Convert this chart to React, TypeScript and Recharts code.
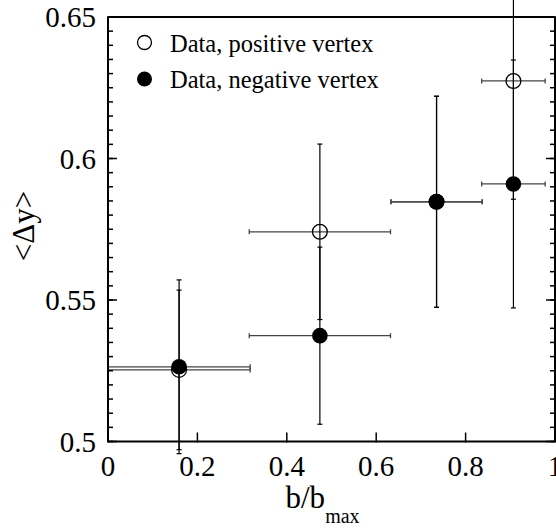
import React from "react";
import {
  ScatterChart,
  Scatter,
  XAxis,
  YAxis,
  ErrorBar,
  Legend,
} from "recharts";

// b/b_max bins (centre and half width)
const binCenters = [0.159, 0.474, 0.735, 0.907];
const binHalfWidths = [0.159, 0.158, 0.102, 0.071];
// <Δy> for the two vertex samples
const positiveY = [0.5253, 0.5741, 0.5847, 0.6274];
const positiveErr = [0.0282, 0.031, 0.0373, 0.0418];
const negativeY = [0.5264, 0.5374, 0.5847, 0.591];
const negativeErr = [0.0307, 0.0313, 0.0373, 0.0438];

const xMajorTicks = [0, 0.2, 0.4, 0.6, 0.8, 1];
const xMajorLabels = ["0", "0.2", "0.4", "0.6", "0.8", "1"];
const yMajorTicks = [0.5, 0.55, 0.6, 0.65];
const yMajorLabels = ["0.5", "0.55", "0.6", "0.65"];

const xMinorTicks = Array.from({ length: 21 }, (_, i) => Number((i * 0.05).toFixed(3)));
const yMinorTicks = Array.from({ length: 31 }, (_, i) => Number((0.5 + i * 0.005).toFixed(4)));

const positiveData = binCenters.map((x, i) => ({
  x,
  y: positiveY[i],
  ex: binHalfWidths[i],
  ey: positiveErr[i],
}));
const negativeData = binCenters.map((x, i) => ({
  x,
  y: negativeY[i],
  ex: binHalfWidths[i],
  ey: negativeErr[i],
}));

const FONT = "Liberation Serif, Times New Roman, serif";
const serif = { fontFamily: FONT };
const frame = { stroke: "#000", strokeWidth: 2 };
const tickStroke = { stroke: "#000", strokeWidth: 1.5 };
const labelStyle = { fontSize: 29, fontFamily: FONT, fill: "#000" };

const fmtX = (v: number) => xMajorLabels[xMajorTicks.findIndex((t) => Math.abs(t - v) < 1e-6)] ?? "";
const fmtY = (v: number) => yMajorLabels[yMajorTicks.findIndex((t) => Math.abs(t - v) < 1e-6)] ?? "";

// tick={false} would drop the tick lines too, so use an empty label instead
const NoLabel = () => <g />;

const OpenDot = (props: any) => (
  <circle cx={props.cx} cy={props.cy} r={7.4} fill="none" stroke="#000" strokeWidth={1.3} />
);
const FilledDot = (props: any) => (
  <circle cx={props.cx} cy={props.cy} r={7.8} fill="#000" stroke="none" />
);

const LegendBox = () => (
  <svg width={320} height={80} style={{ display: "block" }}>
    <circle cx={14.5} cy={17.5} r={7} fill="none" stroke="#000" strokeWidth={1.3} />
    <text x={40} y={26.5} fontSize={24.5} style={serif} fill="#000">
      Data, positive vertex
    </text>
    <circle cx={14.5} cy={54} r={7.5} fill="#000" />
    <text x={40} y={63} fontSize={24.5} style={serif} fill="#000">
      Data, negative vertex
    </text>
  </svg>
);

const YLabel = () => {
  const cx = 23;
  const cy = 226;
  return (
    <text
      x={cx}
      y={cy}
      transform={`rotate(-90 ${cx} ${cy})`}
      textAnchor="middle"
      dominantBaseline="central"
      fontSize={31}
      style={serif}
      fill="#000"
    >
      &lt;Δy&gt;
    </text>
  );
};

const XLabel = (props: any) => {
  const vb = props.viewBox;
  const sx = vb.x + vb.width / 2 - 46;
  return (
    <text x={sx} y={508} fontSize={31} style={serif} fill="#000">
      <tspan>b/b</tspan>
      <tspan fontSize={20} dy={15}>
        max
      </tspan>
    </text>
  );
};

export default function App() {
  return (
    <div style={{ position: "absolute", left: 0, top: 0, background: "#fff" }}>
      <ScatterChart width={556} height={529} margin={{ top: 15, right: -1, bottom: 0, left: 0 }}>
        {/* minor-tick axes come first so they sit right on the frame */}
        <XAxis
          xAxisId="bMinor"
          type="number"
          domain={[0, 1]}
          ticks={xMinorTicks}
          interval={0}
          allowDataOverflow
          height={1}
          tickSize={-5}
          tick={NoLabel}
          tickLine={tickStroke}
          axisLine={frame}
        />
        <XAxis
          xAxisId="bottom"
          type="number"
          dataKey="x"
          domain={[0, 1]}
          ticks={xMajorTicks}
          interval={0}
          allowDataOverflow
          height={86.5}
          tickSize={-10}
          tickMargin={23}
          tickLine={tickStroke}
          tick={labelStyle}
          tickFormatter={fmtX}
          axisLine={false}
          label={<XLabel />}
        />
        <XAxis
          xAxisId="tMinor"
          orientation="top"
          type="number"
          domain={[0, 1]}
          ticks={xMinorTicks}
          interval={0}
          allowDataOverflow
          height={1}
          tickSize={-5}
          tick={NoLabel}
          tickLine={tickStroke}
          axisLine={frame}
        />
        <XAxis
          xAxisId="top"
          orientation="top"
          type="number"
          domain={[0, 1]}
          ticks={xMajorTicks}
          interval={0}
          allowDataOverflow
          height={1}
          tickSize={-10}
          tick={NoLabel}
          tickLine={tickStroke}
          axisLine={false}
        />
        <YAxis
          yAxisId="lMinor"
          type="number"
          domain={[0.5, 0.65]}
          ticks={yMinorTicks}
          interval={0}
          allowDataOverflow
          width={1}
          tickSize={-5}
          tick={NoLabel}
          tickLine={tickStroke}
          axisLine={frame}
        />
        <YAxis
          yAxisId="left"
          type="number"
          dataKey="y"
          domain={[0.5, 0.65]}
          ticks={yMajorTicks}
          interval={0}
          allowDataOverflow
          width={107}
          tickSize={-10}
          tickMargin={21}
          tickLine={tickStroke}
          tick={labelStyle}
          tickFormatter={fmtY}
          axisLine={false}
          label={<YLabel />}
        />
        <YAxis
          yAxisId="rMinor"
          orientation="right"
          type="number"
          domain={[0.5, 0.65]}
          ticks={yMinorTicks}
          interval={0}
          allowDataOverflow
          width={1}
          tickSize={-5}
          tick={NoLabel}
          tickLine={tickStroke}
          axisLine={frame}
        />
        <YAxis
          yAxisId="right"
          orientation="right"
          type="number"
          domain={[0.5, 0.65]}
          ticks={yMajorTicks}
          interval={0}
          allowDataOverflow
          width={1}
          tickSize={-10}
          tick={NoLabel}
          tickLine={tickStroke}
          axisLine={false}
        />
        <Legend
          layout="vertical"
          align="center"
          verticalAlign="middle"
          wrapperStyle={{ left: 130, top: 25, width: 320, height: 80 }}
          content={() => <LegendBox />}
        />
        <Scatter
          name="Data, positive vertex"
          data={positiveData}
          xAxisId="bottom"
          yAxisId="left"
          shape={<OpenDot />}
          isAnimationActive={false}
        >
          <ErrorBar dataKey="ex" direction="x" width={2.5} stroke="#444" strokeWidth={1.3} />
          <ErrorBar dataKey="ey" direction="y" width={2.5} stroke="#000" strokeWidth={1.2} />
        </Scatter>
        <Scatter
          name="Data, negative vertex"
          data={negativeData}
          xAxisId="bottom"
          yAxisId="left"
          shape={<FilledDot />}
          isAnimationActive={false}
        >
          <ErrorBar dataKey="ex" direction="x" width={2.5} stroke="#444" strokeWidth={1.3} />
          <ErrorBar dataKey="ey" direction="y" width={2.5} stroke="#000" strokeWidth={1.2} />
        </Scatter>
      </ScatterChart>
    </div>
  );
}
